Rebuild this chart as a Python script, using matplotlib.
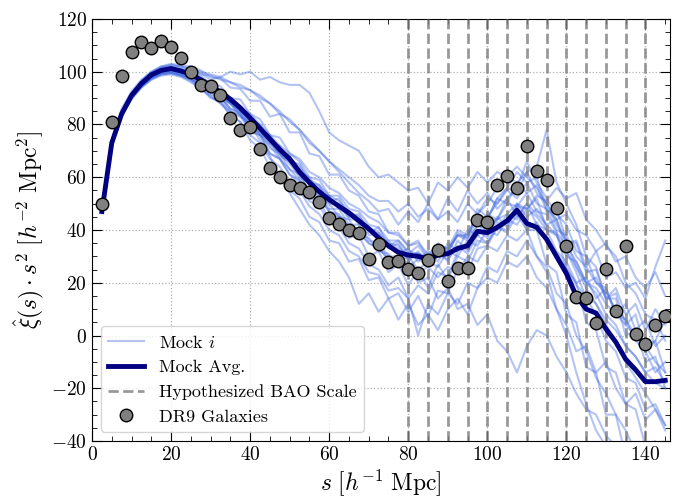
import matplotlib

matplotlib.use("Agg")
import matplotlib.pyplot as plt
from matplotlib.ticker import AutoMinorLocator, MultipleLocator

plt.rcParams["font.family"] = "serif"
plt.rcParams["font.serif"] = ["cmr10"]
plt.rcParams["mathtext.fontset"] = "cm"
plt.rcParams["axes.formatter.use_mathtext"] = True

# separation bins [h^-1 Mpc]
s = [2.5 * (k + 1) for k in range(58)]

dr9 = [50, 81, 98.4, 107.5, 111.3, 109, 111.7, 109.4, 105.2, 100,
       95, 94.6, 91.2, 82.5, 78, 79, 70.7, 63.5, 60, 57,
       56, 54.4, 50.6, 44.5, 42.3, 40, 38.9, 28.9, 34.5, 27.8,
       28.4, 25.2, 23.7, 28.6, 32.6, 20.5, 25.5, 25.5, 43.8, 43.2,
       57, 60.6, 55.8, 71.8, 62.4, 59, 48.2, 34.1, 14.5, 14.2,
       4.6, 25.4, 9.4, 33.9, 0.5, -3.2, 4, 7.5]

mock_avg = [47, 73, 84, 91, 95.5, 98.8, 100.5, 101.2, 100.3, 99,
            97, 94.8, 92.2, 89.6, 86.3, 82.5, 78.5, 74.5, 70.5, 67,
            62, 58, 54.5, 51.5, 49, 46.5, 43.5, 40.5, 37, 34,
            31.5, 30.5, 30, 29, 30.5, 31, 33, 34, 39.5, 39,
            41, 43.5, 47.5, 42.5, 41, 36.5, 30, 23.5, 15, 10,
            8.5, 2.5, -2.5, -9, -13, -17.5, -17.5, -17]

mock_01 = [47.5, 74, 86, 92.5, 97, 100, 102, 103, 102.5, 102,
           100.5, 98, 97.5, 94, 93.5, 89, 89, 83, 84, 77,
           77, 69, 68, 61, 61, 55, 53, 47, 46, 39,
           39, 34, 36, 29, 34, 33, 40, 38, 46, 44,
           52, 50, 58, 54, 57, 47, 48, 36, 35, 24,
           25, 14, 16, 4, 8, -6, -2, -14]
mock_02 = [46.5, 72, 83, 90, 94.5, 97.5, 99, 99.5, 98.5, 96.5,
           94, 90, 89, 83, 81, 74, 71, 64, 61, 55,
           52, 45, 43, 36, 35, 28, 29, 21, 22, 14,
           16, 9, 15, 7, 17, 16, 25, 24, 33, 34,
           41, 40, 49, 48, 52, 40, 39, 25, 20, 5,
           2, -12, -14, -26, -28, -42, -40, -52]
mock_03 = [47, 73.5, 84.5, 91.5, 96, 99, 101, 101.5, 100.5, 99.5,
           97.5, 95, 92.5, 90, 86, 83, 79, 75, 71, 66,
           63, 58, 56, 51, 49, 45, 44, 40, 38, 34,
           33, 29, 31, 27, 30, 29, 34, 31, 38, 35,
           41, 39, 46, 40, 43, 35, 31, 26, 19, 15,
           12, 6, 2, -4, -8, -14, -12, -18]
mock_04 = [47, 72.5, 83.5, 90.5, 95, 98, 100, 101, 100, 98.5,
           97, 94, 92, 88, 85, 81, 78, 73, 69, 65,
           61, 55, 54, 48, 48, 42, 42, 36, 35, 30,
           30, 26, 29, 27, 34, 31, 39, 37, 48, 45,
           50, 56, 54, 62, 64, 78, 58, 50, 42, 30,
           26, 14, 14, 0, 2, -10, -8, -20]
mock_05 = [47, 73, 84, 91, 95.5, 98.5, 100, 100.5, 99.5, 98,
           96, 93.5, 91, 88, 85, 81, 77, 73, 69, 66,
           62, 57, 55, 50, 50, 44, 44, 38, 39, 33,
           35, 28, 32, 26, 33, 28, 36, 32, 40, 37,
           45, 41, 50, 45, 48, 42, 44, 35, 36, 26,
           32, 22, 24, 18, 20, 14, 26, 36]
mock_06 = [47, 73, 84.5, 91, 95.5, 99, 100.5, 101, 100, 99,
           97, 94, 91, 88, 84, 80, 76, 72, 67, 63,
           59, 52, 51, 44, 45, 37, 38, 30, 32, 24,
           27, 19, 25, 18, 27, 21, 30, 28, 36, 35,
           43, 42, 49, 40, 40, 27, 24, 8, 5, -12,
           -14, -30, -30, -46, -44, -56, -54, -60]
mock_07 = [47, 73, 84.5, 91.5, 96, 99.5, 101.5, 102.5, 102, 101,
           99.5, 97, 98, 100, 99, 100, 97, 98, 96, 95,
           95, 92, 85, 77, 74, 72, 70, 64, 60, 61,
           58, 55, 56, 50, 58, 55, 60, 56, 62, 58,
           62, 60, 64, 60, 56, 50, 44, 46, 40, 38,
           32, 35, 28, 30, 22, 18, 24, 15]
mock_08 = [46.5, 72.5, 83, 90, 94.5, 97.5, 99, 99.5, 98.5, 97,
           94, 91, 88, 85, 83, 80, 74, 68, 60, 54,
           48, 42, 38, 32, 28, 22, 12, 16, 9, 14,
           6, 12, 4, 8, 2, 10, 14, 8, 18, 22,
           20, 28, 26, 30, 22, 18, 10, 4, -6, -4,
           -14, -10, -20, -26, -22, -32, -28, -36]
mock_09 = [47, 73, 84, 91, 95, 98.5, 100, 101, 100, 98.5,
           96.5, 94, 92, 88, 87, 81, 80, 73, 72, 66,
           65, 58, 57, 51, 52, 45, 46, 39, 41, 34,
           36, 31, 34, 29, 35, 32, 38, 36, 42, 40,
           44, 46, 50, 48, 53, 51, 56, 52, 54, 44,
           40, 34, 30, 20, 16, 8, 6, -2]
mock_10 = [46.5, 72, 83.5, 90.5, 95, 98, 99.5, 100, 99, 97.5,
           95, 92, 90.5, 86, 84, 78, 76, 69, 67, 61,
           58, 51, 49, 43, 41, 35, 33, 27, 25, 19,
           22, 14, 0, 12, 8, 16, 12, 20, 18, 26,
           24, 32, 30, 36, 30, 26, 16, 12, 0, -6,
           -16, -22, -30, -36, -44, -40, -50, -46]
mock_11 = [47, 73.5, 85, 92, 96.5, 99.5, 101.5, 102, 101.5, 100,
           98.5, 95.5, 94.5, 90, 89.5, 84, 82, 76, 75, 69,
           67, 62, 60, 56, 54, 50, 48, 45, 43, 39,
           38, 34, 35, 31, 34, 33, 38, 37, 44, 43,
           44, 50, 49, 54, 47, 46, 39, 34, 28, 20,
           16, 8, 4, -4, -8, -14, -18, -20]
mock_12 = [47, 72, 83, 89.5, 94, 97, 99, 99.5, 98.5, 97,
           95, 91.5, 90, 85, 83.5, 77, 76, 69, 67, 61,
           59, 53, 52, 47, 45, 41, 39, 35, 33, 29,
           28, 30, 25, 28, 26, 32, 30, 36, 34, 40,
           38, 44, 42, 48, 45, 40, 38, 30, 28, 20,
           22, 14, 18, 8, 12, 2, 10, 4]
mock_13 = [47.5, 73.5, 85, 91.5, 96, 99, 101, 101.5, 100.5, 99,
           97, 95, 92.5, 90, 87, 84, 80, 76, 72, 69,
           66, 60, 59, 53, 53, 48, 47, 42, 41, 36,
           36, 32, 31, 30, 32, 32, 38, 38, 46, 50,
           56, 60, 58, 62, 54, 50, 42, 36, 26, 18,
           12, 4, -2, -10, -16, -22, -28, -34]
mock_14 = [47, 73, 84.5, 91.5, 96.5, 100, 102, 102.5, 102, 101,
           100, 99, 98, 96, 95, 93, 91, 88, 85, 81,
           78, 73, 70, 66, 63, 60, 57, 53, 51, 51,
           47, 50, 45, 48, 44, 47, 43, 50, 46, 52,
           50, 55, 52, 58, 50, 48, 40, 38, 30, 26,
           20, 16, 10, 6, 0, -4, -10, -14]
mock_15 = [46.5, 72.5, 83.5, 90, 94.5, 97.5, 99.5, 100, 99, 97.5,
           95.5, 92.5, 90.5, 86, 84.5, 79, 77, 71, 69, 63,
           61, 54, 53, 47, 46, 41, 39, 35, 33, 29,
           27, 28, 24, 26, 22, 26, 24, 30, 28, 34,
           32, 38, 36, 40, 30, 24, 10, 0, -14, -26,
           -36, -42, -48, -50, -54, -56, -58, -60]
mock_16 = [47, 73, 84, 91, 95.5, 98.5, 100.5, 101, 100, 98.5,
           96.5, 94, 91.5, 88.5, 85.5, 82, 78.5, 74, 71, 67,
           64, 59, 57, 53, 51, 47, 45, 41, 39, 35,
           34, 30, 31, 29, 30, 31, 33, 35, 38, 41,
           40, 46, 44, 50, 46, 42, 38, 32, 26, 20,
           18, 12, 8, 4, 0, -4, -2, 6]
mock_17 = [47, 73, 84.5, 91, 95.5, 98.5, 100.5, 101, 100.5, 99.5,
           99, 98.5, 97, 96, 94, 93, 90, 88, 84, 82,
           78, 74, 70, 66, 62, 58, 54, 51, 47, 48,
           42, 47, 43, 50, 44, 52, 47, 55, 50, 54,
           48, 52, 45, 50, 42, 40, 32, 28, 20, 22,
           14, 18, 8, 12, 2, 6, -4, 0]
mock_18 = [46.5, 72.5, 83.5, 90, 94, 97, 98.5, 99, 98, 96,
           93.5, 90.5, 88, 84, 81, 76, 73, 67, 64, 58,
           55, 49, 46, 40, 38, 32, 30, 24, 23, 17,
           18, 14, 19, 16, 24, 22, 32, 34, 42, 44,
           52, 56, 62, 58, 60, 48, 44, 32, 24, 14,
           8, -2, -6, -16, -18, -28, -26, -34]
mock_19 = [47, 73, 84, 90.5, 95, 98, 100, 100.5, 99.5, 98,
           96, 94, 91, 89, 85, 83, 78, 76, 70, 68,
           62, 60, 54, 53, 48, 47, 42, 41, 36, 36,
           31, 33, 28, 32, 28, 35, 32, 40, 38, 46,
           44, 52, 56, 66, 58, 52, 46, 42, 32, 30,
           20, 18, 8, 6, -2, -6, -14, -10]
mock_20 = [47, 72.5, 84, 90.5, 95, 98, 99.5, 100, 99, 97.5,
           95, 93, 89.5, 88, 83, 81, 76, 74, 68, 66,
           60, 58, 52, 50, 45, 44, 38, 37, 32, 31,
           26, 27, 20, 22, 14, 18, 10, 12, 4, 8,
           -2, -6, -14, -4, 2, 0, -8, -14, -22, -28,
           -30, -38, -42, -50, -54, -60, -62, -66]

mocks = [mock_01, mock_02, mock_03, mock_04, mock_05, mock_06, mock_07, mock_08,
         mock_09, mock_10, mock_11, mock_12, mock_13, mock_14, mock_15, mock_16,
         mock_17, mock_18, mock_19, mock_20]

bao_scales = [80, 85, 90, 95, 100, 105, 110, 115, 120, 125, 130, 135, 140]


def main() -> None:
    fig = plt.figure(figsize=(6.84, 4.99), dpi=100)
    ax = fig.add_axes([0.1345, 0.1162, 0.845, 0.8458])

    for i, m in enumerate(mocks):
        ax.plot(s, m, color="#4169E1", alpha=0.4, lw=1.5, zorder=2,
                label=r"Mock $i$" if i == 0 else None)
    ax.plot(s, mock_avg, color="navy", lw=3.5, zorder=4, label="Mock Avg.")
    for j, b in enumerate(bao_scales):
        ax.axvline(b, color="gray", ls="--", lw=2, alpha=0.8, zorder=3,
                   label="Hypothesized BAO Scale" if j == 0 else None)
    ax.plot(s, dr9, "o", ms=9, mfc="gray", mec="black", mew=1, zorder=5,
            label="DR9 Galaxies")

    ax.set_xlim(0, 146.2)
    ax.set_ylim(-40, 120)
    ax.xaxis.set_major_locator(MultipleLocator(20))
    ax.yaxis.set_major_locator(MultipleLocator(20))
    ax.xaxis.set_minor_locator(AutoMinorLocator(4))
    ax.yaxis.set_minor_locator(AutoMinorLocator(4))
    ax.tick_params(which="both", direction="in", top=True, right=True, labelsize=14)
    ax.tick_params(which="major", length=7)
    ax.tick_params(which="minor", length=3.5)
    ax.grid(True, which="major", ls=":", color="#b0b0b0", lw=0.9)

    ax.set_xlabel(r"$s\ [h^{-1}\ \mathrm{Mpc}]$", fontsize=17, labelpad=2)
    ax.set_ylabel(r"$\hat{\xi}(s)\cdot s^2\ [h^{-2}\ \mathrm{Mpc}^2]$", fontsize=17)

    ax.legend(loc="lower left", fontsize=13, borderaxespad=0.5)

    fig.savefig("out.png", dpi=100)
    plt.close(fig)


if __name__ == "__main__":
    main()
